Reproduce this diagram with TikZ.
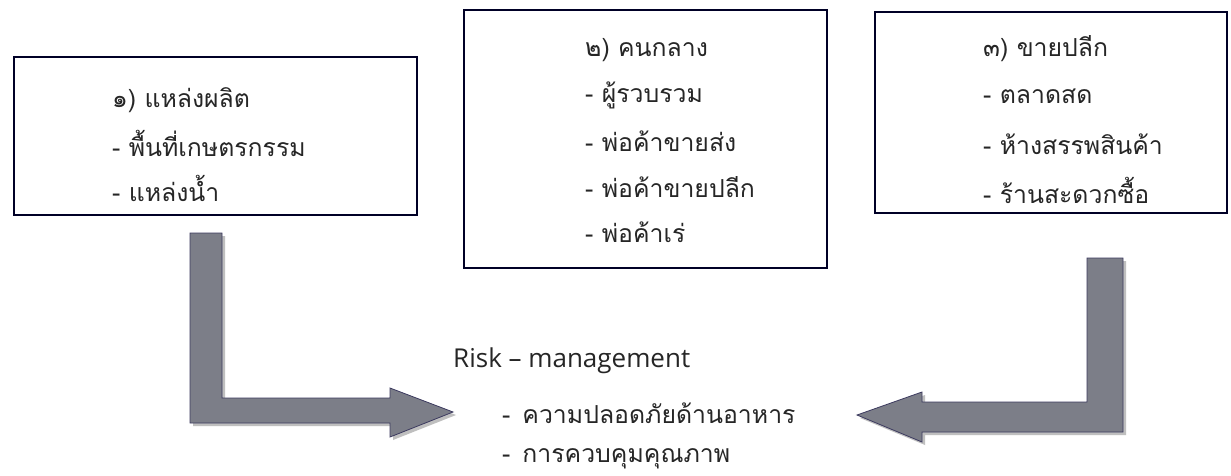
\documentclass[tikz,border=0pt]{standalone}
\usepackage{fontspec}
\setmainfont[Script=Thai]{Loma}
\newfontfamily\latinfont{Open Sans}
\begin{document}
\begin{tikzpicture}[x=1pt,y=-1pt,
  box/.style={draw=black!85!blue, line width=1.6pt, fill=none},
  txt/.style={anchor=west, inner sep=0pt, font=\fontsize{24.8}{29}\selectfont, text=black!85},
  latintxt/.style={anchor=west, inner sep=0pt, font=\latinfont\fontsize{26}{31}\selectfont, text=black!85},
  barrow/.style={fill=arrowgray, draw=arrowedge, line width=0.8pt, line join=miter},
  shadowarrow/.style={fill=black!25, draw=none}]
\definecolor{arrowgray}{RGB}{124,126,136}
\definecolor{arrowedge}{RGB}{60,58,95}
\useasboundingbox (0,0) rectangle (1231,475);
\fill[white] (0,0) rectangle (1231,475);
% boxes
\draw[box] (14,57) rectangle (417,215) coordinate (b1);
\draw[box] (464,10) rectangle (827,268) coordinate (b2);
\draw[box] (875,12) rectangle (1227,213) coordinate (b3);
% box 1 text
\node[txt] (t11) at (112,100) {๑) แหล่งผลิต};
\node[txt] (t12) at (112,143) {- พื้นที่เกษตรกรรม};
\node[txt] (t13) at (112,188) {- แหล่งน้ำ};
% box 2 text
\node[txt] (t21) at (585,50) {๒) คนกลาง};
\node[txt] (t22) at (585,95) {- ผู้รวบรวม};
\node[txt] (t23) at (585,141) {- พ่อค้าขายส่ง};
\node[txt] (t24) at (585,187) {- พ่อค้าขายปลีก};
\node[txt] (t25) at (585,232) {- พ่อค้าเร่};
% box 3 text
\node[txt] (t31) at (983,49) {๓) ขายปลีก};
\node[txt] (t32) at (983,96) {- ตลาดสด};
\node[txt] (t33) at (983,144) {- ห้างสรรพสินค้า};
\node[txt] (t34) at (983,190) {- ร้านสะดวกซื้อ};
% risk text
\node[latintxt] (r0) at (453,361) {Risk – management};
\node[txt] (r1) at (502,413) {-\hspace{12pt}ความปลอดภัยด้านอาหาร};
\node[txt] (r2) at (502,459) {-\hspace{12pt}การควบคุมคุณภาพ};
% arrow 1 (down then right)
\fill[shadowarrow] (193,236) -- (225,236) -- (225,401) -- (393,401) -- (393,391) -- (456,415) -- (393,440) -- (393,426) -- (193,426) -- cycle;
\draw[barrow] (190,233) coordinate (a1s) -- (222,233) -- (222,398) -- (390,398) -- (390,388) -- (453,412) coordinate (a1e) -- (390,437) -- (390,423) -- (190,423) -- cycle;
% arrow 2 (down then left)
\fill[shadowarrow] (1090,261) -- (1126,261) -- (1126,435) -- (925,435) -- (925,445) -- (860,418) -- (925,395) -- (925,405) -- (1090,405) -- cycle;
\draw[barrow] (1087,258) coordinate (a2s) -- (1123,258) -- (1123,432) -- (922,432) -- (922,442) -- (857,415) coordinate (a2e) -- (922,392) -- (922,402) -- (1087,402) -- cycle;
\end{tikzpicture}
\end{document}
